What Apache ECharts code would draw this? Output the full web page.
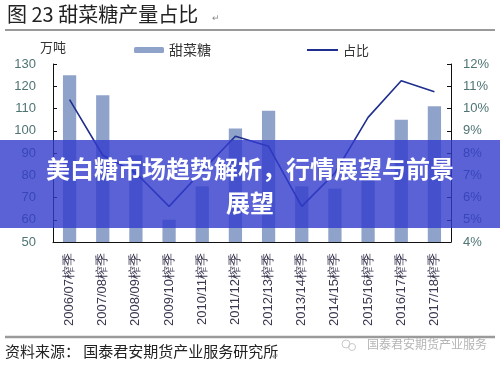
<!DOCTYPE html>
<html><head><meta charset="utf-8">
<script src="https://cdn.jsdelivr.net/npm/echarts@6/dist/echarts.min.js"></script>
<style>html,body{margin:0;padding:0;background:#fff}#c{width:500px;height:369px}</style>
</head><body><div id="c"></div>
<script>
const categories = ['2006/07榨季','2007/08榨季','2008/09榨季','2009/10榨季','2010/11榨季','2011/12榨季','2012/13榨季','2013/14榨季','2014/15榨季','2015/16榨季','2016/17榨季','2017/18榨季'];
const beetSugar = [125, 116, 89, 60, 75, 101, 109, 75, 74, 84, 105, 111];
const share = [10.4, 7.9, 7.1, 5.6, 7.2, 8.75, 8.3, 5.6, 7.1, 9.6, 11.25, 10.75];
const leftTicks = {min: 50, max: 130, interval: 10};
const rightTicks = {min: 4, max: 12, interval: 1};
const title = '图 23 甜菜糖产量占比';
const unitLabel = '万吨';
const sourceText = '资料来源： 国泰君安期货产业服务研究所';
const watermark = '国泰君安期货产业服务';
const bannerLines = ['美白糖市场趋势解析，行情展望与前景', '展望'];

const cjk = '"Noto Sans CJK SC", sans-serif';
const num = '"Liberation Sans", Arial, sans-serif';
const axisLabelColor = '#4f7474';

const chart = echarts.init(document.getElementById('c'), null, {renderer: 'canvas'});
chart.setOption({
  animation: false,
  grid: {left: 53, right: 49, top: 64, height: 178},
  legend: [
    {data: ['甜菜糖'], left: 134, top: 43, padding: 0, itemWidth: 30, itemHeight: 6, itemGap: 4,
     textStyle: {fontFamily: cjk, fontSize: 14, color: '#333', lineHeight: 14}},
    {data: [{name: '占比', icon: 'rect'}], left: 307, top: 43, padding: 0, itemWidth: 31, itemHeight: 2, itemGap: 4,
     textStyle: {fontFamily: cjk, fontSize: 13, color: '#333', lineHeight: 14}}
  ],
  xAxis: {
    type: 'category', data: categories, boundaryGap: true,
    axisLine: {lineStyle: {color: '#111', width: 1}},
    axisTick: {inside: true, length: 4, lineStyle: {color: '#111'}},
    axisLabel: {rotate: 90, fontFamily: num, fontSize: 13, color: '#3a3850', margin: 11, interval: 0}
  },
  yAxis: [
    {type: 'value', min: leftTicks.min, max: leftTicks.max, interval: leftTicks.interval,
     splitLine: {show: false},
     axisLine: {show: true, lineStyle: {color: '#111'}},
     axisTick: {show: true, inside: true, length: 4, lineStyle: {color: '#111'}},
     axisLabel: {fontFamily: num, fontSize: 13, color: axisLabelColor, margin: 17}},
    {type: 'value', min: rightTicks.min, max: rightTicks.max, interval: rightTicks.interval, position: 'right',
     splitLine: {show: false},
     axisLine: {show: true, lineStyle: {color: '#111'}},
     axisTick: {show: true, inside: true, length: 4, lineStyle: {color: '#111'}},
     axisLabel: {fontFamily: num, fontSize: 13, color: axisLabelColor, margin: 12, formatter: '{value}%'}}
  ],
  series: [
    {name: '甜菜糖', type: 'bar', data: beetSugar, yAxisIndex: 0, barWidth: '40%',
     itemStyle: {color: '#8fa3ca'}},
    {name: '占比', type: 'line', data: share, yAxisIndex: 1, symbol: 'none', showSymbol: false,
     lineStyle: {color: '#1f2f8f', width: 1.6}, itemStyle: {color: '#1f2f8f'}}
  ],
  graphic: [
    {type: 'text', left: 7, top: 4, style: {text: title, font: '20px ' + cjk, fill: '#222'}},
    {type: 'text', left: 212, top: 13, style: {text: '↵', font: '9px ' + cjk, fill: '#888'}},
    {type: 'line', shape: {x1: 5, y1: 30, x2: 495, y2: 30}, style: {stroke: '#9a9a9a', lineWidth: 2}},
    {type: 'text', left: 40, top: 41, style: {text: unitLabel, font: '13px ' + cjk, fill: '#333'}},
    {type: 'line', shape: {x1: 5, y1: 337, x2: 495, y2: 337}, style: {stroke: '#9a9a9a', lineWidth: 2.5}},
    {type: 'text', left: 5, top: 344, style: {text: sourceText, font: '15px ' + cjk, fill: '#222'}},
    {type: 'text', left: 272, top: 352, style: {text: '↵', font: '8px ' + cjk, fill: '#888'}},
    {type: 'circle', shape: {cx: 346, cy: 344, r: 4}, style: {fill: 'none', stroke: '#c8c8c8', lineWidth: 1}},
    {type: 'circle', shape: {cx: 352, cy: 347, r: 3.5}, style: {fill: 'none', stroke: '#c8c8c8', lineWidth: 1}},
    {type: 'text', left: 367, top: 338, style: {text: watermark, font: '12px ' + cjk, fill: '#b5b5b5'}},
    {type: 'rect', z: 100, shape: {x: 0, y: 140, width: 500, height: 88}, style: {fill: 'rgba(50,59,204,0.8)'}},
    {type: 'text', z: 101, x: 250, y: 169, style: {text: bannerLines[0], font: 'bold 24px ' + cjk, fill: '#fff',
      align: 'center', verticalAlign: 'middle', shadowColor: 'rgba(0,0,0,0.35)', shadowBlur: 2, shadowOffsetX: 1, shadowOffsetY: 1}},
    {type: 'text', z: 101, x: 250, y: 203, style: {text: bannerLines[1], font: 'bold 24px ' + cjk, fill: '#fff',
      align: 'center', verticalAlign: 'middle', shadowColor: 'rgba(0,0,0,0.35)', shadowBlur: 2, shadowOffsetX: 1, shadowOffsetY: 1}}
  ]
});
</script></body></html>
